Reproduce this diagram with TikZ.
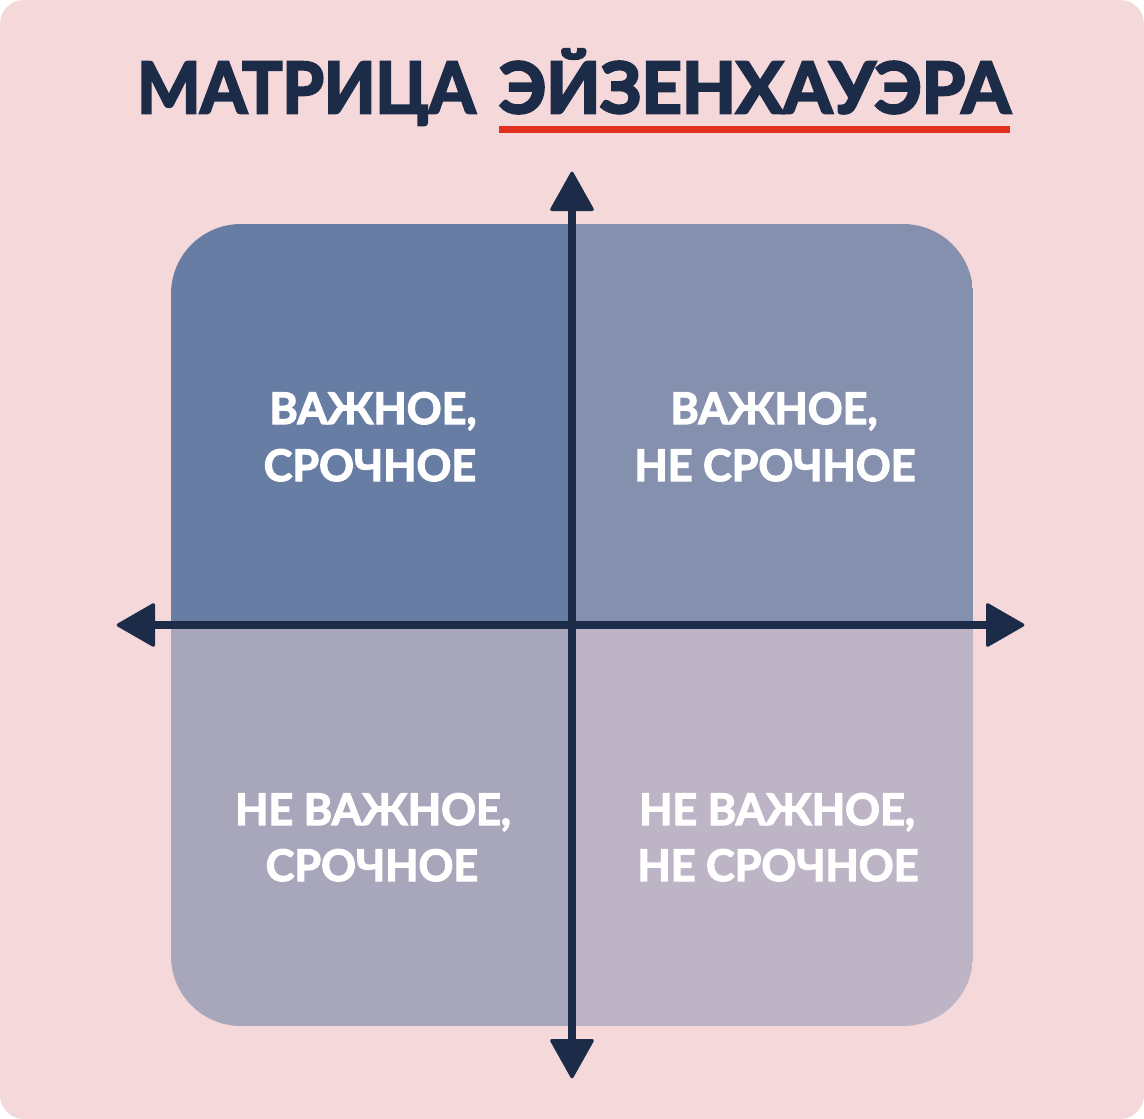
\documentclass[tikz,border=0pt]{standalone}
\usepackage{fontspec}
\setmainfont{Lato}
\newfontfamily\hvyfam{Lato}[BoldFeatures={FakeBold=2.8}]
\newfontfamily\ttlfam{Lato}[BoldFeatures={FakeBold=3.6}]
\usetikzlibrary{calc}
\definecolor{bgpink}{HTML}{F5D8DA}
\definecolor{navy}{HTML}{1B2B48}
\definecolor{redline}{HTML}{E1301C}
\definecolor{qa}{HTML}{687DA3}
\definecolor{qb}{HTML}{8490AE}
\definecolor{qc}{HTML}{A7A6BB}
\definecolor{qd}{HTML}{BDB4C6}
\newsavebox\fitsb
\newcommand\tf{\ttlfam\fontsize{70}{80}\selectfont\bfseries}
\newcommand\qf{\hvyfam\fontsize{44}{58}\selectfont\bfseries}
\AtBeginDocument{%
\sbox\fitsb{\tf МАТРИЦА}\pgfmathsetmacro\txa{338/\the\wd\fitsb}\global\let\txa\txa
\sbox\fitsb{\tf ЭЙЗЕНХАУЭРА}\pgfmathsetmacro\tx{511/\the\wd\fitsb}\global\let\tx\tx
\sbox\fitsb{\tf Н}\pgfmathsetmacro\ty{51/\the\ht\fitsb}\global\let\ty\ty
\sbox\fitsb{\qf НЕ СРОЧНОЕ}\pgfmathsetmacro\qx{281/\the\wd\fitsb}\global\let\qx\qx
\sbox\fitsb{\qf Н}\pgfmathsetmacro\qy{31.5/\the\ht\fitsb}\global\let\qy\qy
}
\begin{document}
\begin{tikzpicture}[x=1pt,y=-1pt,
  ttl/.style={text=navy, inner sep=0pt, anchor=base west},
  txt/.style={text=white, inner sep=0pt, anchor=base},
  axis/.style={draw=navy, line width=8pt},
  head/.style={fill=navy, rounded corners=3pt}]
\fill[white] (0,0) rectangle (1144,1119);
\useasboundingbox (0,0) rectangle (1144,1119);
\fill[bgpink, rounded corners=24pt] (0,0) rectangle (1144,1119);
% matrix quadrants
\begin{scope}
  \clip[rounded corners=70pt] (171,224) rectangle (973,1026);
  \fill[qa] (171,224) rectangle (572,625);
  \fill[qb] (572,224) rectangle (973,625);
  \fill[qc] (171,625) rectangle (572,1026);
  \fill[qd] (572,625) rectangle (973,1026);
\end{scope}
% title
\node[ttl] (t1) at (137,113) {\scalebox{\txa}[\ty]{\tf МАТРИЦА}};
\node[ttl] (t2) at (499,113) {\scalebox{\tx}[\ty]{\tf ЭЙЗЕНХАУЭРА}};
\fill[redline] ($(t2.base west)+(0,13)$) rectangle ($(t2.base east)+(0,20)$);
% axes
\coordinate (N) at (572,211);
\coordinate (S) at (572,1039);
\coordinate (W) at (155,625);
\coordinate (E) at (986,625);
\draw[axis] (W) -- (E);
\draw[axis] (N) -- (S);
\fill[head] ($(N)+(0,-41)$) -- ($(N)+(23,0)$) -- ($(N)+(-23,0)$) -- cycle;
\fill[head] ($(S)+(0,41)$) -- ($(S)+(23,0)$) -- ($(S)+(-23,0)$) -- cycle;
\fill[head] ($(W)+(-40,0)$) -- ($(W)+(0,-23)$) -- ($(W)+(0,23)$) -- cycle;
\fill[head] ($(E)+(40,0)$) -- ($(E)+(0,-23)$) -- ($(E)+(0,23)$) -- cycle;
% labels
\node[txt] (a1) at (373,424) {\scalebox{\qx}[\qy]{\qf ВАЖНОЕ,}};
\node[txt] (a2) at (370,481) {\scalebox{\qx}[\qy]{\qf СРОЧНОЕ}};
\node[txt] (b1) at (774,424) {\scalebox{\qx}[\qy]{\qf ВАЖНОЕ,}};
\node[txt] (b2) at (775,481) {\scalebox{\qx}[\qy]{\qf НЕ СРОЧНОЕ}};
\node[txt] (c1) at (373,825) {\scalebox{\qx}[\qy]{\qf НЕ ВАЖНОЕ,}};
\node[txt] (c2) at (372,881) {\scalebox{\qx}[\qy]{\qf СРОЧНОЕ}};
\node[txt] (d1) at (777,825) {\scalebox{\qx}[\qy]{\qf НЕ ВАЖНОЕ,}};
\node[txt] (d2) at (778,881) {\scalebox{\qx}[\qy]{\qf НЕ СРОЧНОЕ}};
\end{tikzpicture}
\end{document}
